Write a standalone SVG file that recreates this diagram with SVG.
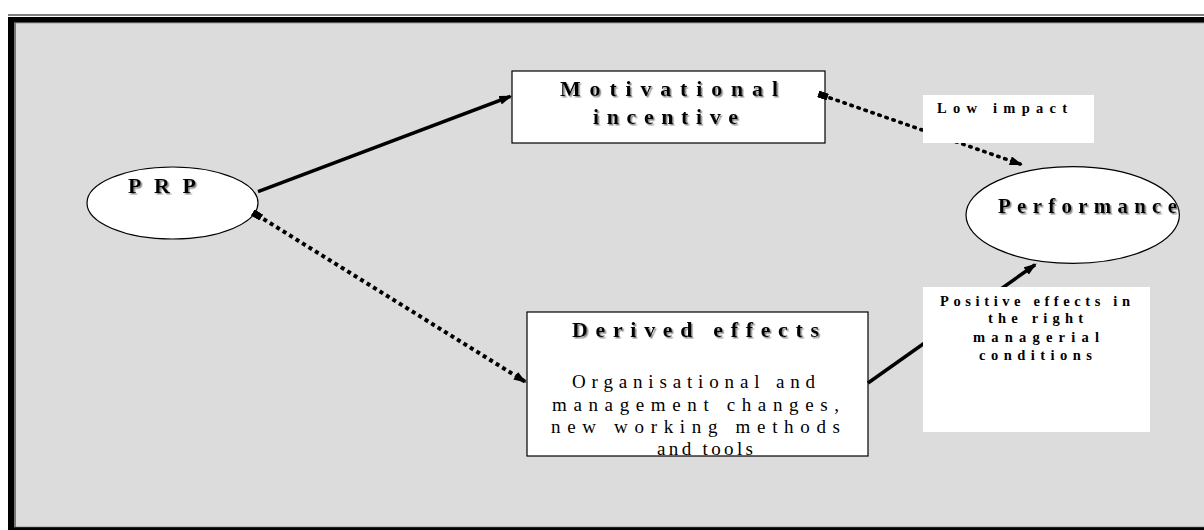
<svg xmlns="http://www.w3.org/2000/svg" width="1204" height="530" viewBox="0 0 1204 530">
<style>
.t{font-family:"Liberation Serif","Times New Roman",serif;fill:#000}
.title{font-size:22px;font-weight:bold;filter:url(#sh)}
.body{font-size:19px}
.lab{font-size:14.5px;font-weight:bold}
.node{fill:#fff;stroke:#000;stroke-width:1.2}
.lbox{fill:#fff;stroke:none}
.solid{fill:none;stroke:#000;stroke-width:3.5}
.sq{fill:none;stroke:#000;stroke-width:4;stroke-dasharray:4 3.6}
.dot{fill:none;stroke:#000;stroke-width:3.6;stroke-dasharray:1.4 6;stroke-linecap:round}
</style>
<defs>
<filter id="sh" x="-10%" y="-30%" width="130%" height="160%">
<feDropShadow dx="1.5" dy="1.5" stdDeviation="0.6" flood-color="#8a8a8a" flood-opacity="1"/>
</filter>
<marker id="arr" markerUnits="userSpaceOnUse" viewBox="0 0 13 9" refX="11" refY="4.5" markerWidth="13" markerHeight="9" orient="auto">
<path d="M0,0 L13,4.5 L0,9 z" fill="#000"/>
</marker>
<marker id="box" markerUnits="userSpaceOnUse" viewBox="0 0 10 7" refX="5" refY="3.5" markerWidth="10" markerHeight="7" orient="auto">
<rect x="0" y="0" width="10" height="7" fill="#000"/>
</marker>
</defs>
<rect x="0" y="0" width="1204" height="530" fill="#fff"/>
<g id="frame">
<rect x="8" y="14.5" width="1196" height="1" fill="#000"/>
<rect x="8" y="17" width="1196" height="513" fill="#000"/>
<rect x="14" y="22.3" width="1190" height="505" fill="#777"/>
<rect x="16" y="23.3" width="1188" height="503.4" fill="#dcdcdc"/>
</g>
<g id="prp">
<ellipse class="node" cx="172.5" cy="203" rx="85.5" ry="36"/>
<text class="t title" x="128" y="193" textLength="68" lengthAdjust="spacing">PRP</text>
</g>
<g id="motivational">
<rect class="node" x="512" y="71" width="313" height="72"/>
<text class="t title" x="560" y="95.7" textLength="218" lengthAdjust="spacing">Motivational</text>
<text class="t title" x="593" y="123.5" textLength="145" lengthAdjust="spacing">incentive</text>
</g>
<g id="derived">
<rect class="node" x="527" y="312" width="341" height="144"/>
<text class="t title" x="572" y="336.7" textLength="247" lengthAdjust="spacing">Derived effects</text>
<text class="t body" x="572" y="387.7" textLength="243" lengthAdjust="spacing">Organisational and</text>
<text class="t body" x="552" y="411" textLength="287" lengthAdjust="spacing">management changes,</text>
<text class="t body" x="551" y="433.3" textLength="289" lengthAdjust="spacing">new working methods</text>
<text class="t body" x="657" y="454.5" textLength="96" lengthAdjust="spacing">and tools</text>
</g>
<g id="performance">
<ellipse class="node" cx="1072.7" cy="215" rx="106.7" ry="48.3"/>
<text class="t title" style="font-size:21px" x="998" y="213.3" textLength="179" lengthAdjust="spacing">Performance</text>
</g>
<g id="connectors">
<path class="solid" d="M258,191.7 L510.4,96.4" marker-end="url(#arr)"/>
<path class="sq" d="M257,215 L525,381.6" marker-start="url(#box)" marker-end="url(#arr)"/>
<path class="dot" d="M823,95.5 L1020.8,164.3" marker-start="url(#box)" marker-end="url(#arr)"/>
<path class="solid" d="M868,383 L1035.1,264.7" marker-end="url(#arr)"/>
</g>
<g id="label-low-impact">
<rect class="lbox" x="923" y="95" width="171" height="48"/>
<text class="t lab" x="937" y="113.3" textLength="130" lengthAdjust="spacing">Low impact</text>
</g>
<g id="label-positive">
<rect class="lbox" x="923" y="287" width="227" height="145"/>
<text class="t lab" x="940" y="305.7" textLength="190" lengthAdjust="spacing">Positive effects in</text>
<text class="t lab" x="988" y="323.3" textLength="95" lengthAdjust="spacing">the right</text>
<text class="t lab" x="973" y="341.5" textLength="126" lengthAdjust="spacing">managerial</text>
<text class="t lab" x="979" y="360" textLength="113" lengthAdjust="spacing">conditions</text>
</g>
</svg>
